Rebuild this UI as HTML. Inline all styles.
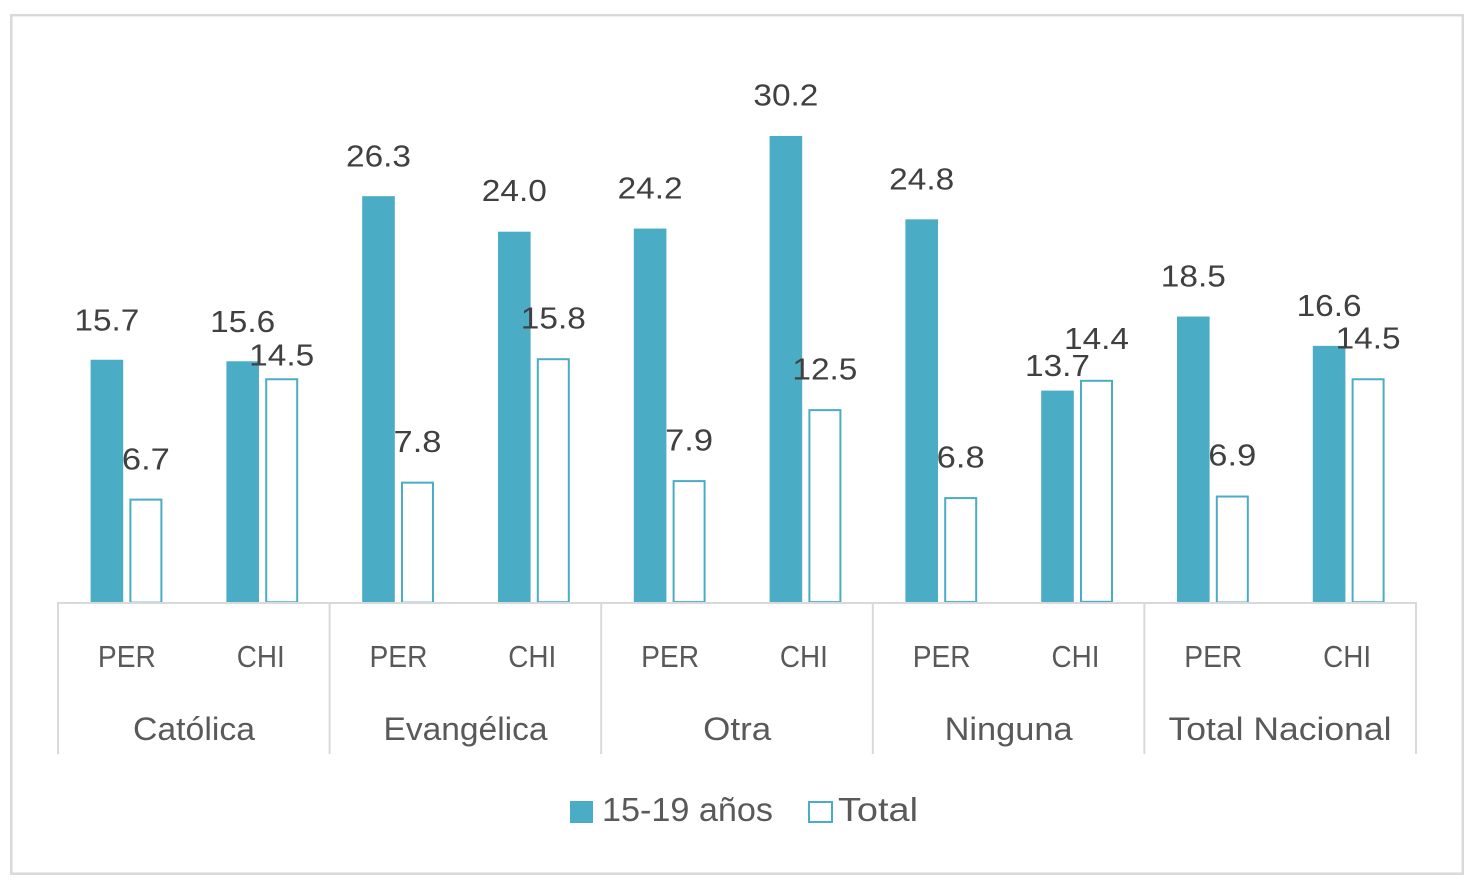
<!DOCTYPE html>
<html><head><meta charset="utf-8"><style>
html,body{margin:0;padding:0;background:#fff;}
svg{display:block;}
text{font-family:"Liberation Sans",Arial,sans-serif;}
.dl{font-size:31px;fill:#404040;text-anchor:middle;}
.cl{font-size:31px;fill:#595959;text-anchor:middle;}
.gl{font-size:32px;fill:#595959;text-anchor:middle;}
.lg{font-size:33px;fill:#595959;}
</style></head><body>
<svg width="1477" height="891" viewBox="0 0 1477 891" xmlns="http://www.w3.org/2000/svg">
<rect x="0" y="0" width="1477" height="891" fill="#fff"/>
<rect x="11.3" y="15.2" width="1451.5" height="858.5" fill="none" stroke="#d9d9d9" stroke-width="2.5"/>

<g fill="#4bacc6">
<rect x="90.6" y="359.75" width="32.6" height="242.25"/>
<rect x="226.4" y="361.29" width="32.6" height="240.71"/>
<rect x="362.2" y="196.19" width="32.6" height="405.81"/>
<rect x="498.0" y="231.68" width="32.6" height="370.32"/>
<rect x="633.8" y="228.59" width="32.6" height="373.41"/>
<rect x="769.6" y="136.01" width="32.6" height="465.99"/>
<rect x="905.4" y="219.34" width="32.6" height="382.66"/>
<rect x="1041.2" y="390.61" width="32.6" height="211.39"/>
<rect x="1177.0" y="316.54" width="32.6" height="285.46"/>
<rect x="1312.8" y="345.86" width="32.6" height="256.14"/>
</g>
<g fill="#fff" stroke="#4bacc6" stroke-width="2">
<rect x="130.4" y="499.62" width="31" height="103"/>
<rect x="266.2" y="379.26" width="31" height="223"/>
<rect x="402.0" y="482.65" width="31" height="120"/>
<rect x="537.8" y="359.21" width="31" height="243"/>
<rect x="673.6" y="481.10" width="31" height="121"/>
<rect x="809.4" y="410.12" width="31" height="192"/>
<rect x="945.2" y="498.08" width="31" height="104"/>
<rect x="1081.0" y="380.81" width="31" height="221"/>
<rect x="1216.8" y="496.53" width="31" height="106"/>
<rect x="1352.6" y="379.26" width="31" height="223"/>
</g>

<g stroke="#d9d9d9" stroke-width="2" fill="none">
<line x1="57" y1="603" x2="1417" y2="603"/>
<line x1="58" y1="603" x2="58" y2="754"/>
<line x1="329.6" y1="603" x2="329.6" y2="754"/>
<line x1="601.2" y1="603" x2="601.2" y2="754"/>
<line x1="872.8" y1="603" x2="872.8" y2="754"/>
<line x1="1144.4" y1="603" x2="1144.4" y2="754"/>
<line x1="1416" y1="603" x2="1416" y2="754"/>
</g>

<!-- data labels -->
<text class="dl" x="106.9" y="330.5" textLength="65" lengthAdjust="spacingAndGlyphs">15.7</text>
<text class="dl" x="145.9" y="469.5" textLength="48" lengthAdjust="spacingAndGlyphs">6.7</text>
<text class="dl" x="242.7" y="332" textLength="65" lengthAdjust="spacingAndGlyphs">15.6</text>
<text class="dl" x="281.7" y="365.5" textLength="65" lengthAdjust="spacingAndGlyphs">14.5</text>
<text class="dl" x="378.5" y="166.5" textLength="65" lengthAdjust="spacingAndGlyphs">26.3</text>
<text class="dl" x="417.5" y="452" textLength="48" lengthAdjust="spacingAndGlyphs">7.8</text>
<text class="dl" x="514.3" y="201" textLength="65" lengthAdjust="spacingAndGlyphs">24.0</text>
<text class="dl" x="553.3" y="328.5" textLength="65" lengthAdjust="spacingAndGlyphs">15.8</text>
<text class="dl" x="650.1" y="198.5" textLength="65" lengthAdjust="spacingAndGlyphs">24.2</text>
<text class="dl" x="689.1" y="450.5" textLength="48" lengthAdjust="spacingAndGlyphs">7.9</text>
<text class="dl" x="785.9" y="105.5" textLength="65" lengthAdjust="spacingAndGlyphs">30.2</text>
<text class="dl" x="824.9" y="379.5" textLength="65" lengthAdjust="spacingAndGlyphs">12.5</text>
<text class="dl" x="921.7" y="189.5" textLength="65" lengthAdjust="spacingAndGlyphs">24.8</text>
<text class="dl" x="960.7" y="467.5" textLength="48" lengthAdjust="spacingAndGlyphs">6.8</text>
<text class="dl" x="1057.5" y="376" textLength="65" lengthAdjust="spacingAndGlyphs">13.7</text>
<text class="dl" x="1096.5" y="349" textLength="65" lengthAdjust="spacingAndGlyphs">14.4</text>
<text class="dl" x="1193.3" y="286.5" textLength="65" lengthAdjust="spacingAndGlyphs">18.5</text>
<text class="dl" x="1232.3" y="465.5" textLength="48" lengthAdjust="spacingAndGlyphs">6.9</text>
<text class="dl" x="1329.1" y="316" textLength="65" lengthAdjust="spacingAndGlyphs">16.6</text>
<text class="dl" x="1368.1" y="348.5" textLength="65" lengthAdjust="spacingAndGlyphs">14.5</text>

<!-- category labels -->
<text class="cl" x="126.9" y="667" textLength="58" lengthAdjust="spacingAndGlyphs">PER</text>
<text class="cl" x="260.7" y="667" textLength="48" lengthAdjust="spacingAndGlyphs">CHI</text>
<text class="cl" x="398.5" y="667" textLength="58" lengthAdjust="spacingAndGlyphs">PER</text>
<text class="cl" x="532.3" y="667" textLength="48" lengthAdjust="spacingAndGlyphs">CHI</text>
<text class="cl" x="670.1" y="667" textLength="58" lengthAdjust="spacingAndGlyphs">PER</text>
<text class="cl" x="803.9" y="667" textLength="48" lengthAdjust="spacingAndGlyphs">CHI</text>
<text class="cl" x="941.7" y="667" textLength="58" lengthAdjust="spacingAndGlyphs">PER</text>
<text class="cl" x="1075.5" y="667" textLength="48" lengthAdjust="spacingAndGlyphs">CHI</text>
<text class="cl" x="1213.3" y="667" textLength="58" lengthAdjust="spacingAndGlyphs">PER</text>
<text class="cl" x="1347.1" y="667" textLength="48" lengthAdjust="spacingAndGlyphs">CHI</text>

<text class="gl" x="194" y="740" textLength="122" lengthAdjust="spacingAndGlyphs">Católica</text>
<text class="gl" x="465.5" y="740" textLength="164" lengthAdjust="spacingAndGlyphs">Evangélica</text>
<text class="gl" x="737.2" y="740" textLength="68" lengthAdjust="spacingAndGlyphs">Otra</text>
<text class="gl" x="1008.6" y="740" textLength="128" lengthAdjust="spacingAndGlyphs">Ninguna</text>
<text class="gl" x="1280" y="740" textLength="223" lengthAdjust="spacingAndGlyphs">Total Nacional</text>

<!-- legend -->
<rect x="570" y="801" width="23" height="22" fill="#4bacc6"/>
<text class="lg" x="602" y="821" textLength="171" lengthAdjust="spacingAndGlyphs">15-19 años</text>
<rect x="809" y="802" width="23" height="20" fill="#fff" stroke="#4bacc6" stroke-width="2"/>
<text class="lg" x="838" y="821" textLength="80" lengthAdjust="spacingAndGlyphs">Total</text>
</svg>
</body></html>
